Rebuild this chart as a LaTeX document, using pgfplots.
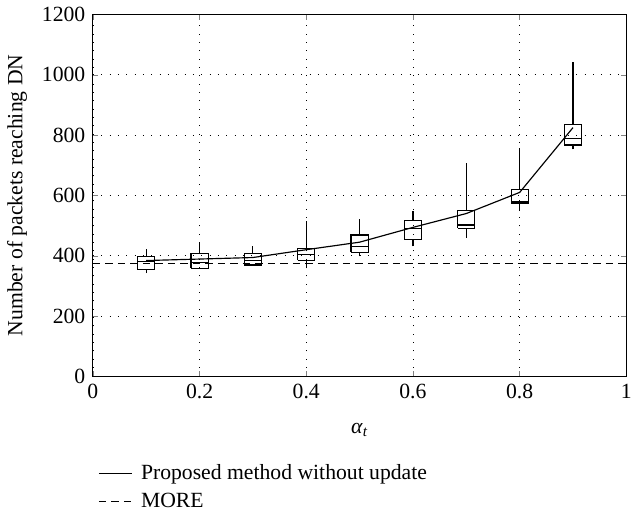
\documentclass[border=0pt]{standalone}
\usepackage{fontspec}
\setmainfont{Liberation Serif}
\usepackage{pgfplots}
\pgfplotsset{compat=1.18}
\begin{document}
\fontsize{13}{15.5}\selectfont
\begin{tikzpicture}
\begin{axis}[
  scale only axis,
  width=320pt, height=217pt,
  xmin=0, xmax=1, ymin=0, ymax=1200,
  xtick={0,0.2,0.4,0.6,0.8,1},
  xticklabels={0,0.2,0.4,0.6,0.8,1},
  ytick={0,200,400,600,800,1000,1200},
  /pgf/number format/assume math mode=true,
  /pgf/number format/1000 sep={},
  tick align=inside,
  major tick length=3pt,
  grid=major,
  major grid style={black, dash pattern=on 0.6pt off 4.4pt},
  axis line style={black, line width=0.6pt},
  xlabel={\textit{α}\textsubscript{\textit{t}}},
  ylabel={Number of packets reaching DN},
  xlabel style={yshift=-6pt},
  legend style={at={(0,-0.225)}, anchor=north west, draw=none, fill=none,
    font=\fontsize{13}{15.5}\selectfont, row sep=2pt,
    nodes={inner xsep=5pt}},
  legend image code/.code={\draw[#1] (0pt,0pt) -- (20pt,0pt);},
  legend cell align=left,
  unbounded coords=jump,
]
\addplot[black, line width=0.7pt] coordinates {
 (0.1,384) (0.2,389) (0.3,394) (0.4,420) (0.5,445) (0.6,494) (0.7,540) (0.8,610) (0.9,825)};
\addlegendentry{Proposed method without update}
\addplot[black, line width=0.7pt, dash pattern=on 4.5pt off 3pt] coordinates {(0,375) (1,375)};
\addlegendentry{MORE}

% whiskers: (x, lower whisker)-(x, q1) and (x, q3)-(x, upper whisker)
\addplot[black, line width=0.7pt, forget plot] coordinates {
 (0.1,342) (0.1,354) (0.1,nan) (0.1,398) (0.1,422) (0.1,nan)
 (0.2,356) (0.2,358) (0.2,nan) (0.2,406) (0.2,441) (0.2,nan)
 (0.3,369) (0.3,369) (0.3,nan) (0.3,407) (0.3,431) (0.3,nan)
 (0.4,358) (0.4,385) (0.4,nan) (0.4,425) (0.4,515) (0.4,nan)
 (0.5,398) (0.5,411) (0.5,nan) (0.5,469) (0.5,522) (0.5,nan)
 (0.6,431) (0.6,455) (0.6,nan) (0.6,517) (0.6,548) (0.6,nan)
 (0.7,460) (0.7,491) (0.7,nan) (0.7,550) (0.7,709) (0.7,nan)
 (0.8,548) (0.8,575) (0.8,nan) (0.8,619) (0.8,757) (0.8,nan)
 (0.9,753) (0.9,767) (0.9,nan) (0.9,835) (0.9,1044)
};
% boxes (quartiles)
\addplot[black, line width=0.7pt, forget plot] coordinates {
 (0.084,354) (0.116,354) (0.116,398) (0.084,398) (0.084,354) (0.084,nan)
 (0.184,358) (0.216,358) (0.216,406) (0.184,406) (0.184,358) (0.184,nan)
 (0.284,369) (0.316,369) (0.316,407) (0.284,407) (0.284,369) (0.284,nan)
 (0.384,385) (0.416,385) (0.416,425) (0.384,425) (0.384,385) (0.384,nan)
 (0.484,411) (0.516,411) (0.516,469) (0.484,469) (0.484,411) (0.484,nan)
 (0.584,455) (0.616,455) (0.616,517) (0.584,517) (0.584,455) (0.584,nan)
 (0.684,491) (0.716,491) (0.716,550) (0.684,550) (0.684,491) (0.684,nan)
 (0.784,575) (0.816,575) (0.816,619) (0.784,619) (0.784,575) (0.784,nan)
 (0.884,767) (0.916,767) (0.916,835) (0.884,835) (0.884,767)
};
% medians
\addplot[black, line width=0.7pt, forget plot] coordinates {
 (0.084,382) (0.116,382) (0.116,nan)
 (0.184,378) (0.216,378) (0.216,nan)
 (0.284,384) (0.316,384) (0.316,nan)
 (0.384,405) (0.416,405) (0.416,nan)
 (0.484,431) (0.516,431) (0.516,nan)
 (0.584,491) (0.616,491) (0.616,nan)
 (0.684,502) (0.716,502) (0.716,nan)
 (0.784,580) (0.816,580) (0.816,nan)
 (0.884,789) (0.916,789)
};
\end{axis}
\end{tikzpicture}
\end{document}
